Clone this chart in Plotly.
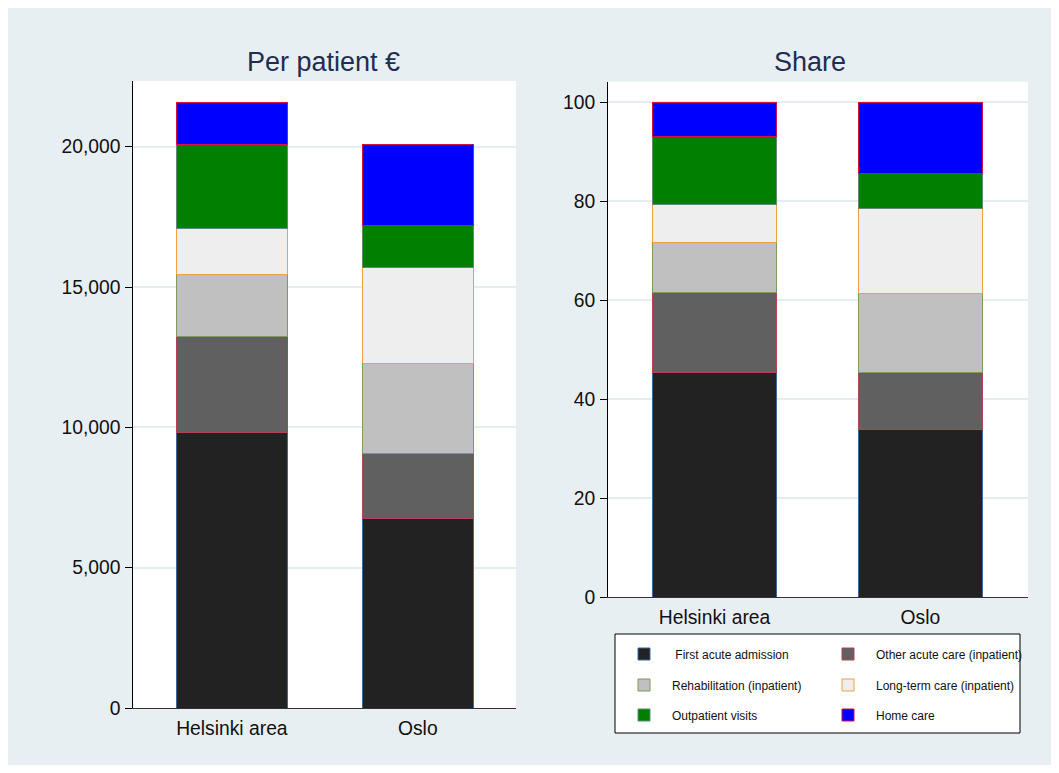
import plotly.graph_objects as go

# ---------------- data ----------------
categories = ["Helsinki area", "Oslo"]
components = [
    " First acute admission",
    "Other acute care (inpatient)",
    "Rehabilitation (inpatient)",
    "Long-term care (inpatient)",
    "Outpatient visits",
    "Home care",
]

# per patient costs (EUR)
eur_first_acute = [9800, 6760]
eur_other_acute = [3420, 2310]
eur_rehab = [2210, 3220]
eur_long_term = [1660, 3410]
eur_outpatient = [2990, 1480]
eur_home_care = [1500, 2900]

# shares (%)
share_first_acute = [45.3, 33.9]
share_other_acute = [16.3, 11.4]
share_rehab = [10.0, 16.1]
share_long_term = [7.6, 17.0]
share_outpatient = [13.8, 7.2]
share_home_care = [7.0, 14.4]

eur_series = [eur_first_acute, eur_other_acute, eur_rehab,
              eur_long_term, eur_outpatient, eur_home_care]
share_series = [share_first_acute, share_other_acute, share_rehab,
                share_long_term, share_outpatient, share_home_care]

eur_ticks = [0, 5000, 10000, 15000, 20000]
share_ticks = [0, 20, 40, 60, 80, 100]

# ---------------- style ----------------
fills = ["#222222", "#606060", "#c0c0c0", "#eeeeee", "#007f00", "#0000ff"]
outlines = ["#3d6a99", "#b04452", "#7f9a5f", "#f0a040", "#5e8c74", "#d01048"]
BG = "#e8eff2"
GRID = "#e4edf0"
FONT = "Liberation Sans, Arial, sans-serif"

# legend rows: two entries per row
legend_ids = ["legend", "legend", "legend2", "legend2", "legend3", "legend3"]

fig = go.Figure()
for i, name in enumerate(components):
    fig.add_trace(go.Bar(
        x=categories, y=eur_series[i], name=name,
        marker=dict(color=fills[i], line=dict(color=outlines[i], width=1)),
        width=0.6, xaxis="x", yaxis="y", showlegend=True, legend=legend_ids[i],
    ))
for i, name in enumerate(components):
    fig.add_trace(go.Bar(
        x=categories, y=share_series[i], name=name,
        marker=dict(color=fills[i], line=dict(color=outlines[i], width=1)),
        width=0.6, xaxis="x2", yaxis="y2", showlegend=False,
    ))

W, H = 1059, 773
def px_x(a, b):
    return [a / W, b / W]
def px_y(top, bottom):
    return [1 - bottom / H, 1 - top / H]

axis_font = dict(family=FONT, size=19.3, color="#111111")

def legend_row(center_y):
    return dict(
        orientation="h", x=616 / W, y=1 - center_y / H, xanchor="left",
        yanchor="middle", bgcolor="rgba(0,0,0,0)", borderwidth=0,
        font=dict(family=FONT, size=12, color="#111111"),
        itemwidth=46, entrywidth=143, entrywidthmode="pixels",
        traceorder="normal",
    )

fig.update_layout(
    width=W, height=H,
    margin=dict(l=0, r=0, t=0, b=0, autoexpand=False),
    paper_bgcolor=BG, plot_bgcolor="white",
    barmode="stack",
    font=dict(family=FONT, color="#111111"),
    showlegend=True,
    xaxis=dict(domain=px_x(133.3, 516), range=[-0.53, 1.528], showline=True,
               linecolor="#333333", linewidth=1, ticks="", tickfont=axis_font,
               showgrid=False, zeroline=False, ticklabelstandoff=3),
    yaxis=dict(domain=px_y(81, 708), range=[0, 22340], tickvals=eur_ticks,
               tickformat=",", showline=True, linecolor="#000000", linewidth=1,
               ticks="outside", ticklen=7, tickcolor="#000000", tickwidth=1,
               tickfont=axis_font, showgrid=True, gridcolor=GRID, gridwidth=2,
               zeroline=False, ticklabelstandoff=1),
    xaxis2=dict(domain=px_x(608, 1028), range=[-0.5175, 1.523], anchor="y2",
                showline=True, linecolor="#333333", linewidth=1, ticks="",
                tickfont=axis_font, showgrid=False, zeroline=False,
                ticklabelstandoff=3),
    yaxis2=dict(domain=px_y(81.7, 597), range=[0, 104.1], anchor="x2",
                tickvals=share_ticks, showline=True, linecolor="#000000",
                linewidth=1, ticks="outside", ticklen=7, tickcolor="#000000",
                tickwidth=1, tickfont=axis_font, showgrid=True, gridcolor=GRID,
                gridwidth=2, zeroline=False, ticklabelstandoff=1),
    legend=legend_row(654),
    legend2=legend_row(685),
    legend3=legend_row(715),
    annotations=[
        dict(text="Per patient €", x=323.3 / W, y=1 - 62.5 / H, xref="paper",
             yref="paper", showarrow=False, xanchor="center", yanchor="middle",
             font=dict(family=FONT, size=27, color="#1f2d52")),
        dict(text="Share", x=810.3 / W, y=1 - 62.5 / H, xref="paper",
             yref="paper", showarrow=False, xanchor="center", yanchor="middle",
             font=dict(family=FONT, size=27, color="#1f2d52")),
    ],
    shapes=[
        # legend frame
        dict(type="rect", xref="paper", yref="paper",
             x0=615 / W, x1=1020 / W, y0=1 - 733 / H, y1=1 - 634 / H,
             line=dict(color="#000000", width=1), fillcolor="white",
             layer="above"),
        # outer white border
        dict(type="rect", xref="paper", yref="paper", x0=0, y0=0, x1=1, y1=1,
             line=dict(color="white", width=16), fillcolor="rgba(0,0,0,0)",
             layer="above"),
    ],
)

fig.write_html("out.html")
